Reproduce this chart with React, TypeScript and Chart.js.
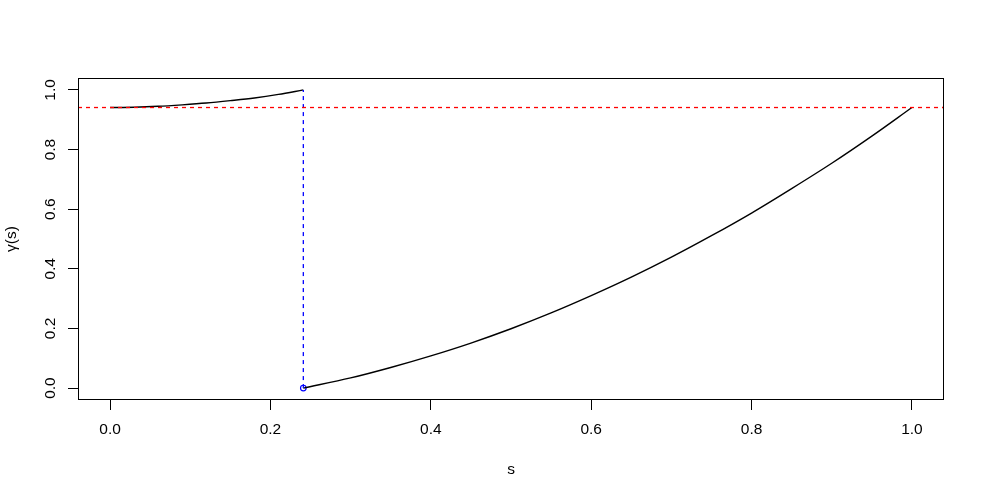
import React, { useEffect, useRef } from "react";
import { Chart, registerables } from "chart.js";

Chart.register(...registerables);

// ---- data ----
const sLeft = [0, 0.03, 0.06, 0.09, 0.12, 0.15, 0.18, 0.21, 0.241];
const gammaLeft = [0.941, 0.942, 0.945, 0.95, 0.956, 0.964, 0.973, 0.985, 1.0];

const sRight = [0.241, 0.3, 0.35, 0.4, 0.45, 0.5, 0.55, 0.6, 0.65, 0.7, 0.75, 0.8, 0.85, 0.9, 0.95, 1.0];
const gammaRight = [0, 0.034, 0.069, 0.108, 0.151, 0.199, 0.252, 0.31, 0.372, 0.439, 0.511, 0.587, 0.669, 0.754, 0.845, 0.941];

const hLevel = 0.941; // red dashed horizontal
const sJump = 0.241; // blue dashed vertical
const jumpFrom = 0;
const jumpTo = 1.0;

const xTicks = [0, 0.2, 0.4, 0.6, 0.8, 1.0];
const yTicks = [0, 0.2, 0.4, 0.6, 0.8, 1.0];
const xRange = [-0.04, 1.04];
const yRange = [-0.04, 1.04];

const FONT = { family: "'Liberation Sans', Arial, sans-serif", size: 15.5 };

const boxPlugin = {
  id: "box",
  afterDatasetsDraw(chart: any) {
    const { ctx, chartArea } = chart;
    const l = Math.round(chartArea.left) + 0.5;
    const t = Math.round(chartArea.top) + 0.5;
    const r = Math.round(chartArea.right) - 0.5;
    const b = Math.round(chartArea.bottom) - 0.5;
    ctx.save();
    ctx.strokeStyle = "#000";
    ctx.lineWidth = 1;
    ctx.strokeRect(l, t, r - l, b - t);
    ctx.restore();
  },
};

export default function App() {
  const ref = useRef<HTMLCanvasElement | null>(null);

  useEffect(() => {
    if (!ref.current) return;
    const toPts = (xs: number[], ys: number[]) => xs.map((x, i) => ({ x, y: ys[i] }));
    const chart = new Chart(ref.current, {
      type: "scatter",
      data: {
        datasets: [
          {
            data: [
              { x: xRange[0], y: hLevel },
              { x: xRange[1], y: hLevel },
            ],
            showLine: true,
            borderColor: "#ff0000",
            backgroundColor: "#ff0000",
            borderWidth: 1.3,
            borderDash: [4, 4],
            pointRadius: 0,
          },
          {
            data: [
              { x: sJump, y: jumpFrom },
              { x: sJump, y: jumpTo },
            ],
            showLine: true,
            borderColor: "#0000ff",
            backgroundColor: "#0000ff",
            borderWidth: 1.3,
            borderDash: [4, 4],
            pointRadius: 0,
          },
          {
            data: toPts(sLeft, gammaLeft),
            showLine: true,
            borderColor: "#000",
            borderWidth: 1.4,
            pointRadius: 0,
            cubicInterpolationMode: "monotone",
          },
          {
            data: toPts(sRight, gammaRight),
            showLine: true,
            borderColor: "#000",
            borderWidth: 1.4,
            pointRadius: 0,
            cubicInterpolationMode: "monotone",
          },
          {
            data: [{ x: sJump, y: jumpFrom }],
            showLine: false,
            pointRadius: 2.8,
            pointBorderColor: "#0000ff",
            pointBackgroundColor: "rgba(0,0,0,0)",
            pointBorderWidth: 1.2,
          },
        ],
      },
      options: {
        responsive: false,
        animation: false,
        devicePixelRatio: 1,
        layout: { padding: { top: 78, right: 41, left: 0, bottom: 0 } },
        plugins: { legend: { display: false }, tooltip: { enabled: false } },
        scales: {
          x: {
            type: "linear",
            min: xRange[0],
            max: xRange[1],
            afterBuildTicks: (scale: any) => {
              scale.ticks = xTicks.map((v) => ({ value: v }));
            },
            afterFit: (scale: any) => {
              scale.height = 98;
            },
            border: { display: false },
            grid: {
              drawOnChartArea: false,
              drawTicks: true,
              tickLength: 10,
              color: "#000",
              tickColor: "#000",
            },
            ticks: {
              color: "#000",
              font: FONT,
              padding: 10,
              maxRotation: 0,
              minRotation: 0,
              callback: (v: any) => Number(v).toFixed(1),
            },
            title: {
              display: true,
              text: "s",
              color: "#000",
              font: FONT,
              padding: { top: 0, bottom: 19 },
            },
          },
          y: {
            type: "linear",
            min: yRange[0],
            max: yRange[1],
            afterBuildTicks: (scale: any) => {
              scale.ticks = yTicks.map((v) => ({ value: v }));
            },
            afterFit: (scale: any) => {
              scale.width = 78;
            },
            border: { display: false },
            grid: {
              drawOnChartArea: false,
              drawTicks: true,
              tickLength: 10,
              color: "#000",
              tickColor: "#000",
            },
            ticks: {
              color: "#000",
              font: FONT,
              padding: 7,
              minRotation: 90,
              maxRotation: 90,
              crossAlign: "center",
              callback: (v: any) => Number(v).toFixed(1),
            },
            title: {
              display: true,
              text: "γ(s)",
              color: "#000",
              font: FONT,
              padding: { top: 2, bottom: 0 },
            },
          },
        },
      },
      plugins: [boxPlugin],
    } as any);
    return () => chart.destroy();
  }, []);

  return (
    <canvas
      ref={ref}
      width={985}
      height={498}
      style={{ position: "absolute", left: 0, top: 0, display: "block", background: "#fff" }}
    />
  );
}
